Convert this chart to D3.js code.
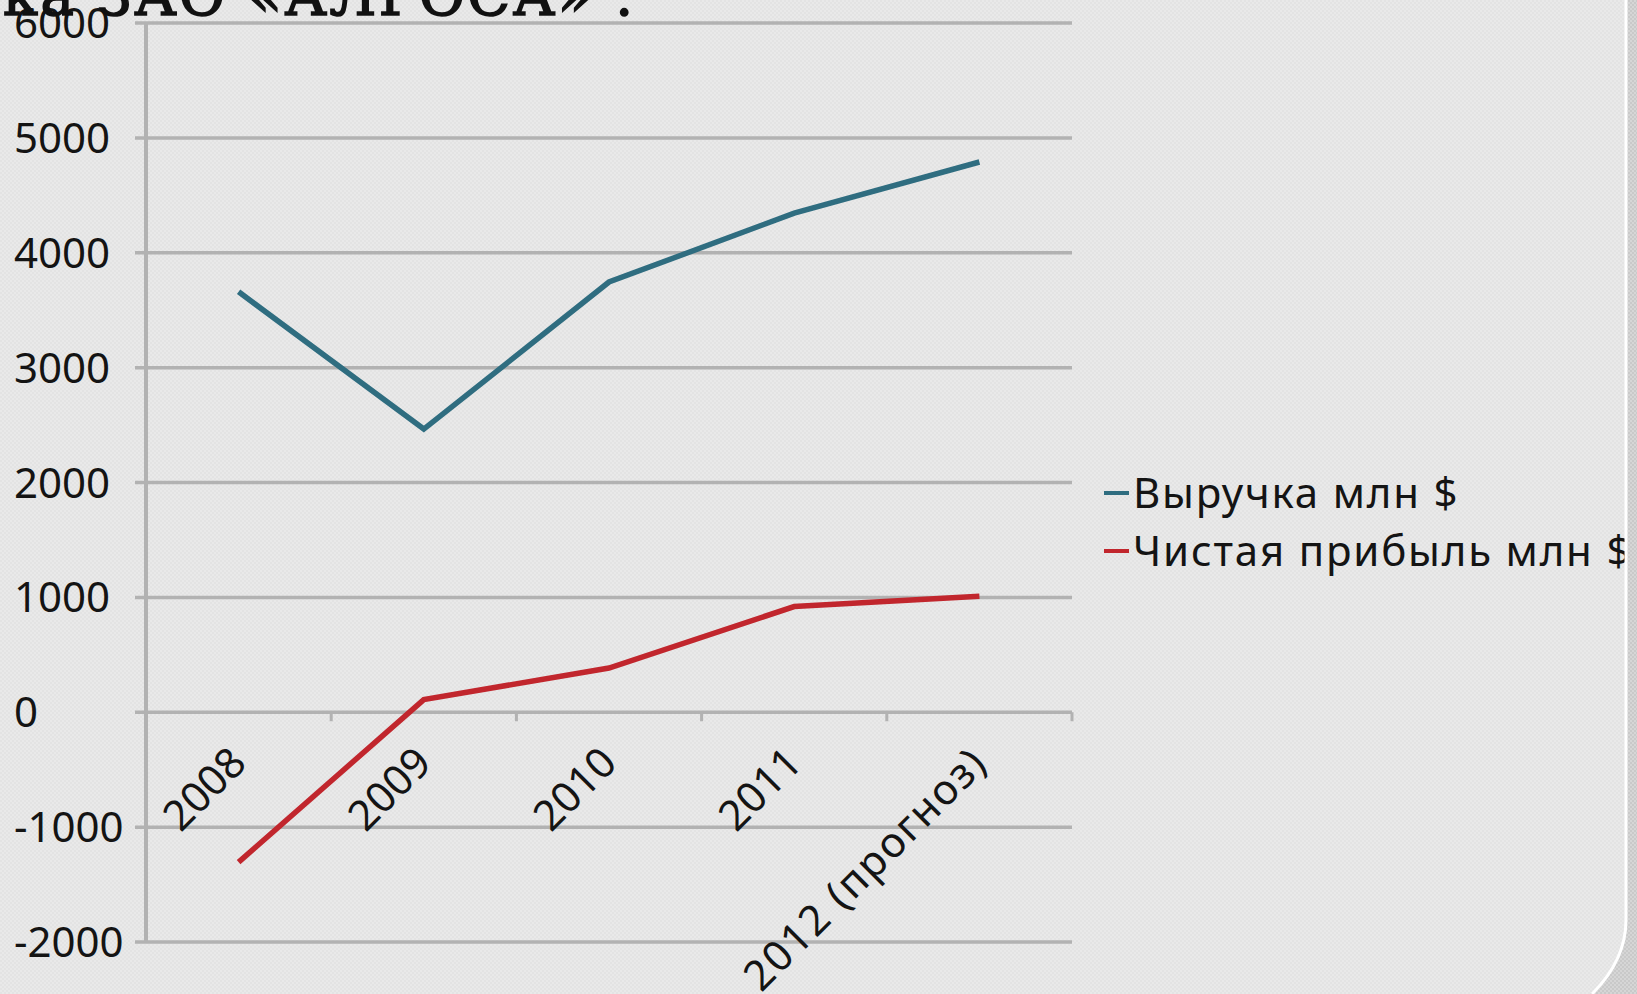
<!DOCTYPE html>
<html>
<head>
<meta charset="utf-8">
<script src="https://cdn.jsdelivr.net/npm/d3@7"></script>
<style>
  html, body { margin: 0; padding: 0; background: #e8e8e8; overflow: hidden; }
  svg { display: block; }
</style>
</head>
<body>
<div id="chart"></div>
<script>
// data
var years = ["2008", "2009", "2010", "2011", "2012 (прогноз)"];
var revenue = [3660, 2465, 3745, 4345, 4790];
var profit = [-1305, 110, 385, 920, 1010];
var seriesNames = ["Выручка млн $", "Чистая прибыль млн $"];
var yTicks = [-2000, -1000, 0, 1000, 2000, 3000, 4000, 5000, 6000];

var W = 1637, H = 994;
var plotLeft = 146, plotRight = 1072, plotTop = 23, plotBottom = 942;

var svg = d3.select("#chart").append("svg")
    .attr("width", W)
    .attr("height", H);

// slide background texture
var defs = svg.append("defs");
var pat = defs.append("pattern")
    .attr("id", "tex")
    .attr("width", 4).attr("height", 4)
    .attr("patternUnits", "userSpaceOnUse");
pat.append("rect").attr("width", 4).attr("height", 4).attr("fill", "#e9e9e9");
pat.append("rect").attr("width", 2).attr("height", 2).attr("fill", "#e3e3e3");
pat.append("rect").attr("x", 2).attr("y", 2).attr("width", 2).attr("height", 2).attr("fill", "#e3e3e3");
var pat2 = defs.append("pattern")
    .attr("id", "tex2")
    .attr("width", 4).attr("height", 4)
    .attr("patternUnits", "userSpaceOnUse");
pat2.append("rect").attr("width", 4).attr("height", 4).attr("fill", "#d6d6d6");
pat2.append("rect").attr("width", 2).attr("height", 2).attr("fill", "#c9c9c9");
pat2.append("rect").attr("x", 2).attr("y", 2).attr("width", 2).attr("height", 2).attr("fill", "#c9c9c9");

svg.append("rect").attr("width", W).attr("height", H).attr("fill", "url(#tex)");

var x = d3.scaleBand().domain(years).range([plotLeft, plotRight]).padding(0);
var y = d3.scaleLinear().domain([-2000, 6000]).range([plotBottom, plotTop]);
var cx = function(d) { return x(d) + x.bandwidth() / 2; };

// gridlines
svg.append("g")
  .selectAll("line")
  .data(yTicks)
  .enter().append("line")
    .attr("x1", plotLeft - 11)
    .attr("x2", plotRight)
    .attr("y1", function(d) { return y(d); })
    .attr("y2", function(d) { return y(d); })
    .attr("stroke", "#b2b2b2")
    .attr("stroke-width", 3.5);

// y axis line
svg.append("line")
    .attr("x1", plotLeft).attr("x2", plotLeft)
    .attr("y1", plotTop).attr("y2", plotBottom)
    .attr("stroke", "#b2b2b2")
    .attr("stroke-width", 4);

// x ticks on the zero line
var xTickPos = years.map(function(d) { return x(d); }).concat([plotRight]);
svg.append("g")
  .selectAll("line")
  .data(xTickPos)
  .enter().append("line")
    .attr("x1", function(d) { return d; })
    .attr("x2", function(d) { return d; })
    .attr("y1", y(0))
    .attr("y2", y(0) + 9)
    .attr("stroke", "#b2b2b2")
    .attr("stroke-width", 3);

// y tick labels, left aligned
svg.append("g")
  .selectAll("text")
  .data(yTicks)
  .enter().append("text")
    .attr("x", 14)
    .attr("y", function(d) { return y(d); })
    .attr("dy", "0.36em")
    .attr("font-family", "'Noto Sans', sans-serif")
    .attr("font-size", 42)
    .attr("fill", "#141414")
    .text(function(d) { return d; });

// x labels, rotated
svg.append("g")
  .selectAll("text")
  .data(years)
  .enter().append("text")
    .attr("text-anchor", "end")
    .attr("transform", function(d) { return "translate(" + (cx(d) + 10) + "," + (y(0) + 53) + ") rotate(-45)"; })
    .attr("font-family", "'Noto Sans', sans-serif")
    .attr("font-size", 42)
    .attr("letter-spacing", function(d) { return d.length > 4 ? 1.8 : 0; })
    .attr("fill", "#141414")
    .text(function(d) { return d; });

var line = d3.line()
    .x(function(d, i) { return cx(years[i]); })
    .y(function(d) { return y(d); });

var colors = ["#2f6d80", "#c1262d"];
[revenue, profit].forEach(function(s, i) {
  svg.append("path")
      .datum(s)
      .attr("d", line)
      .attr("fill", "none")
      .attr("stroke", colors[i])
      .attr("stroke-width", 5.5)
      .attr("stroke-linejoin", "miter");
});

// legend
var legend = svg.append("g")
  .selectAll("g")
  .data(seriesNames)
  .enter().append("g")
    .attr("transform", function(d, i) { return "translate(1104," + (493 + i * 58) + ")"; });
legend.append("line")
    .attr("x1", 0).attr("x2", 25)
    .attr("stroke", function(d, i) { return colors[i]; })
    .attr("stroke-width", 4);
legend.append("text")
    .attr("x", 29)
    .attr("dy", "0.36em")
    .attr("font-family", "'Noto Sans', sans-serif")
    .attr("font-size", 42)
    .attr("letter-spacing", 1.8)
    .attr("fill", "#141414")
    .text(function(d) { return d; });

// right edge of the slide frame
svg.append("path")
    .attr("d", "M1627,0 L1637,0 L1637,994 L1590,994 Q1627,960 1627,920 Z")
    .attr("fill", "url(#tex2)");
svg.append("path")
    .attr("d", "M1626,0 L1626,920 Q1626,960 1592,994")
    .attr("fill", "none")
    .attr("stroke", "#ffffff")
    .attr("stroke-width", 3);

// slide title, cut off at the top
svg.append("text")
    .attr("x", 636)
    .attr("y", 15)
    .attr("text-anchor", "end")
    .attr("font-family", "'DejaVu Serif', serif")
    .attr("font-size", 56)
    .attr("letter-spacing", 2.5)
    .attr("fill", "#111")
    .attr("stroke", "#111")
    .attr("stroke-width", 1.6)
    .text("Динамика ЗАО «АЛРОСА» :");
</script>
</body>
</html>
